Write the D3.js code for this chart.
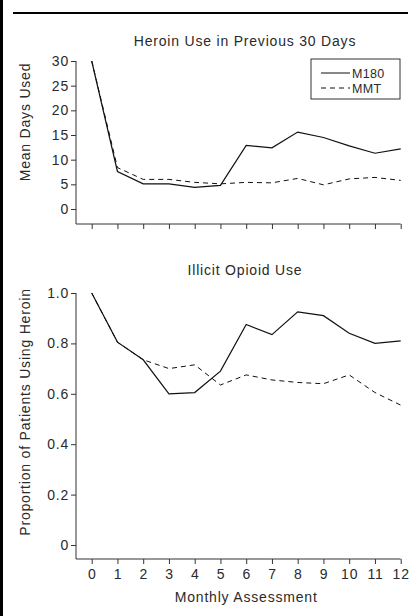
<!DOCTYPE html>
<html>
<head>
<meta charset="utf-8">
<script src="https://cdn.jsdelivr.net/npm/d3@7"></script>
<style>
  body { margin: 0; background: white; overflow: hidden; }
  text { font-family: "Liberation Sans", Arial, sans-serif; fill: #2a2a2a; letter-spacing: 0.8px; }
</style>
</head>
<body>
<script>
//Parameters
var w = 411;
var h = 616;
var fontSize = 14;
var lineColor = "#111";

//Data
var months = [0, 1, 2, 3, 4, 5, 6, 7, 8, 9, 10, 11, 12];
var seriesNames = ["M180", "MMT"];
var daysM180 = [30, 7.6, 5.1, 5.1, 4.4, 4.8, 12.9, 12.4, 15.6, 14.5, 12.8, 11.3, 12.2];
var daysMMT = [30, 8.4, 6.0, 6.0, 5.4, 5.1, 5.4, 5.3, 6.2, 4.9, 6.1, 6.4, 5.8];
var propM180 = [1.0, 0.805, 0.735, 0.60, 0.605, 0.69, 0.875, 0.835, 0.925, 0.91, 0.84, 0.80, 0.81];
var propMMT = [1.0, 0.805, 0.735, 0.70, 0.715, 0.635, 0.675, 0.655, 0.645, 0.64, 0.675, 0.605, 0.555];
var daysTicks = [0, 5, 10, 15, 20, 25, 30];
var propTicks = [0, 0.2, 0.4, 0.6, 0.8, 1.0];

var svg = d3.select("body").append("svg")
    .attr("width", w)
    .attr("height", h);

//Page frame: thick left rule and top rule
svg.append("rect")
    .attr("x", 0).attr("y", 0)
    .attr("width", 3).attr("height", h)
    .attr("fill", "#000");
svg.append("line")
    .attr("x1", 13).attr("x2", 408)
    .attr("y1", 13).attr("y2", 13)
    .attr("stroke", "#000")
    .attr("stroke-width", 2);

//Shared x scale
var x = d3.scaleLinear().domain([0, 12]).range([91.7, 400.7]);
var xLeft = 76;

function panel(opts) {
    var y = d3.scaleLinear().domain(opts.domain).range(opts.range);
    var g = svg.append("g");

    //y axis
    var yAxis = d3.axisLeft(y)
        .tickValues(opts.ticks)
        .tickFormat(opts.format)
        .tickSize(5)
        .tickSizeOuter(0);
    var ya = g.append("g")
        .attr("transform", "translate(" + xLeft + ",0)")
        .call(yAxis);
    ya.select(".domain").attr("d", "M0," + y(opts.ticks[opts.ticks.length - 1]) + "V" + opts.bottom);

    //x axis
    var xAxis = d3.axisBottom(x)
        .tickValues(months)
        .tickSize(5)
        .tickSizeOuter(0)
        .tickFormat(opts.showX ? d3.format("d") : "");
    var xa = g.append("g")
        .attr("transform", "translate(0," + opts.bottom + ")")
        .call(xAxis);
    xa.select(".domain").attr("d", "M" + xLeft + ",0H" + x(12));
    xa.selectAll(".tick text").attr("y", 10);

    g.selectAll(".domain, .tick line").attr("stroke", "#333").attr("stroke-width", 1);
    g.selectAll(".tick text")
        .style("font-size", fontSize + "px")
        .style("font-family", "Liberation Sans, Arial, sans-serif")
        .attr("fill", "#2a2a2a");
    ya.selectAll(".tick text").attr("x", -7);

    //title
    g.append("text")
        .attr("x", 245)
        .attr("y", opts.titleY)
        .attr("text-anchor", "middle")
        .style("font-size", fontSize + "px")
        .text(opts.title);

    //y label
    g.append("text")
        .attr("transform", "translate(" + opts.labelX + "," + opts.labelY + ") rotate(-90)")
        .attr("text-anchor", "middle")
        .style("font-size", fontSize + "px")
        .text(opts.ylabel);

    //lines
    var line = d3.line()
        .x(function (d, i) { return x(months[i]); })
        .y(function (d) { return y(d); });

    g.append("path")
        .attr("d", line(opts.mmt))
        .attr("fill", "none")
        .attr("stroke", lineColor)
        .attr("stroke-width", 1)
        .attr("stroke-dasharray", "5,4");
    g.append("path")
        .attr("d", line(opts.m180))
        .attr("fill", "none")
        .attr("stroke", lineColor)
        .attr("stroke-width", 1.2);
    return g;
}

panel({
    domain: [0, 30], range: [209, 61], bottom: 224,
    ticks: daysTicks, format: d3.format("d"), showX: false,
    title: "Heroin Use in Previous 30 Days", titleY: 46,
    ylabel: "Mean Days Used", labelX: 30, labelY: 122,
    m180: daysM180, mmt: daysMMT
});

panel({
    domain: [0, 1], range: [545, 293], bottom: 559,
    ticks: propTicks, format: function (d) { return d === 0 ? "0" : d3.format(".1f")(d); }, showX: true,
    title: "Illicit Opioid Use", titleY: 275,
    ylabel: "Proportion of Patients Using Heroin", labelX: 30, labelY: 412,
    m180: propM180, mmt: propMMT
});

//x axis title
svg.append("text")
    .attr("x", x(6))
    .attr("y", 602)
    .attr("text-anchor", "middle")
    .style("font-size", fontSize + "px")
    .text("Monthly Assessment");

//Legend
var legend = svg.append("g").attr("transform", "translate(311,59)");
legend.append("rect")
    .attr("width", 89).attr("height", 40)
    .attr("fill", "white")
    .attr("stroke", "#333")
    .attr("stroke-width", 1);
legend.selectAll("line.key")
    .data(seriesNames)
    .enter().append("line")
    .attr("class", "key")
    .attr("x1", 10).attr("x2", 39)
    .attr("y1", function (d, i) { return 14 + i * 15; })
    .attr("y2", function (d, i) { return 14 + i * 15; })
    .attr("stroke", lineColor)
    .attr("stroke-dasharray", function (d, i) { return i ? "5,4" : null; });
legend.selectAll("text")
    .data(seriesNames)
    .enter().append("text")
    .attr("x", 41)
    .attr("y", function (d, i) { return 18.5 + i * 15; })
    .style("font-size", "12.5px")
    .style("letter-spacing", "0.3px")
    .text(function (d) { return d; });
</script>
</body>
</html>
